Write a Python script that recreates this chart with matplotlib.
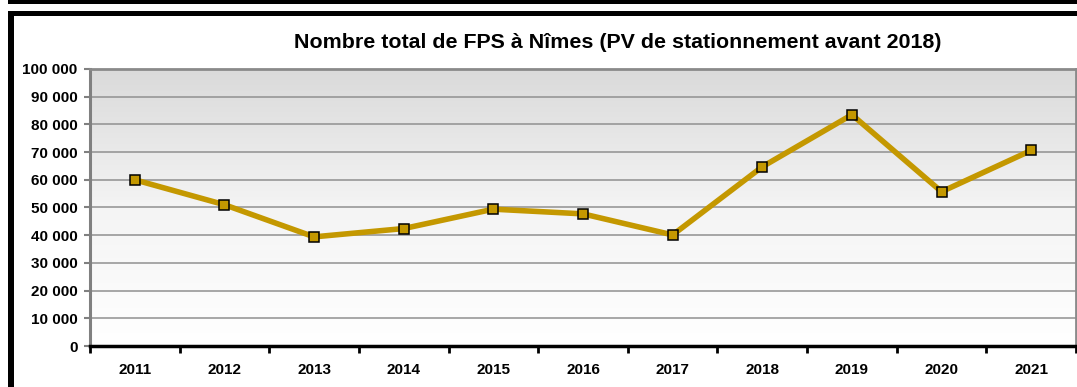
import matplotlib
matplotlib.use("Agg")
import matplotlib.pyplot as plt
import numpy as np
from matplotlib.patches import Rectangle
from matplotlib.ticker import FuncFormatter, FixedLocator

plt.rcParams['font.family'] = ['Liberation Sans', 'DejaVu Sans']
plt.rcParams['font.weight'] = 'bold'

years = ['2011', '2012', '2013', '2014', '2015', '2016', '2017', '2018', '2019', '2020', '2021']
fps = [60000, 51000, 39400, 42400, 49400, 47700, 40100, 64700, 83500, 55700, 70600]
yticks = list(range(0, 100001, 10000))

W, H = 1077, 387
fig = plt.figure(figsize=(W / 100, H / 100), dpi=100)
fig.patch.set_facecolor('white')

# outer frame bits
fig.add_artist(Rectangle((8 / W, 1 - 4 / H), 1, 4 / H, transform=fig.transFigure,
                         facecolor='black', edgecolor='none'))
fig.add_artist(Rectangle((8 / W, 1 - 16 / H), 1, 5 / H, transform=fig.transFigure,
                         facecolor='black', edgecolor='none'))
fig.add_artist(Rectangle((8 / W, 0), 6 / W, 1 - 11 / H, transform=fig.transFigure,
                         facecolor='black', edgecolor='none'))

left, right, top, bottom = 90, 1076, 69, 346
ax = fig.add_axes([left / W, 1 - bottom / H, (right - left) / W, (bottom - top) / H])

x = np.arange(len(years))
ax.set_xlim(-0.5, len(years) - 0.5)
ax.set_ylim(0, 100000)

# vertical grey-to-white background
grad = np.linspace(0, 1, 256).reshape(-1, 1)
cmap = matplotlib.colors.LinearSegmentedColormap.from_list('bg', ['#ffffff', '#f4f4f4', '#dadada'])
ax.imshow(grad, aspect='auto', cmap=cmap, origin='lower',
          extent=[-0.5, len(years) - 0.5, 0, 100000], zorder=0)

for v in yticks[1:]:
    ax.axhline(v, color='#909090', lw=1.1, zorder=1)

ax.plot(x, fps, color='#c49800', lw=4, zorder=3, solid_joinstyle='miter',
        marker='s', markersize=6.5, markerfacecolor='#c49800',
        markeredgecolor='black', markeredgewidth=1.1)

ax.yaxis.set_major_locator(FixedLocator(yticks))
ax.yaxis.set_major_formatter(FuncFormatter(lambda v, p: f"{v:,.0f}".replace(",", " ")))
ax.tick_params(axis='y', length=4, width=1.5, color='#808080', labelsize=11, pad=5)

ax.set_xticks(x)
ax.set_xticklabels(years)
ax.set_xticks(np.arange(-0.5, len(years)), minor=True)
ax.tick_params(axis='x', which='major', length=0, labelsize=11, pad=12)
ax.tick_params(axis='x', which='minor', length=5, width=2, color='black', direction='out')

for lbl in ax.get_xticklabels() + ax.get_yticklabels():
    lbl.set_fontweight('bold')

ax.spines['left'].set_color('#808080')
ax.spines['left'].set_linewidth(2.2)
ax.spines['bottom'].set_color('black')
ax.spines['bottom'].set_linewidth(2.5)
ax.spines['top'].set_color('#8a8a8a')
ax.spines['top'].set_linewidth(2)
ax.spines['right'].set_color('#8a8a8a')
ax.spines['right'].set_linewidth(2)

fig.text(618 / W, 1 - 42 / H, 'Nombre total de FPS à Nîmes (PV de stationnement avant 2018)',
         ha='center', va='center', fontsize=15.4, fontweight='bold')

fig.savefig('out.png', dpi=100)
